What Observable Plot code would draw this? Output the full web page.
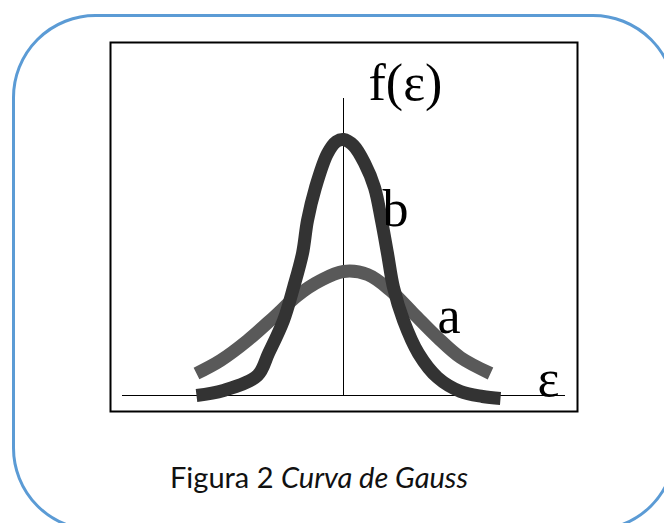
<!DOCTYPE html>
<html>
<head>
<meta charset="utf-8">
<script src="https://cdn.jsdelivr.net/npm/d3@7"></script>
<script src="https://cdn.jsdelivr.net/npm/@observablehq/plot@0.6"></script>
<style>
  html, body { margin: 0; padding: 0; background: #fff; width: 664px; height: 523px; overflow: hidden; }
  #box { position: absolute; left: 0; top: 0; }
  #chart { position: absolute; left: 108px; top: 40px; }
  #caption { position: absolute; left: 170px; top: 459px; font-family: Lato, "Open Sans", sans-serif; font-size: 29px; color: #111; white-space: nowrap; }
  #caption i { font-style: italic; }
</style>
</head>
<body>
<svg id="box" width="664" height="523" viewBox="0 0 664 523">
  <rect x="13.5" y="15.5" width="661.5" height="514.5" rx="82" ry="82" fill="none" stroke="#5b9bd5" stroke-width="3"></rect>
</svg>
<div id="chart"></div>
<div id="caption">Figura 2 <i>Curva de Gauss</i></div>
<script>
// curve b (narrow, tall)
const bX = [-2.94, -2.40, -1.72, -1.50, -1.20, -1.00, -0.82, -0.72, -0.56, -0.32, -0.14, 0, 0.20, 0.42, 0.62, 0.76, 0.88, 1.00, 1.20, 1.50, 1.88, 2.34, 2.78, 3.14];
const bY = [0.000, 0.020, 0.080, 0.168, 0.300, 0.432, 0.568, 0.700, 0.832, 0.968, 1.016, 1.024, 1.000, 0.930, 0.832, 0.700, 0.568, 0.432, 0.300, 0.168, 0.072, 0.016, -0.004, -0.012];
// curve a (wide, low)
const aX = [-2.94, -2.46, -1.92, -1.40, -0.92, -0.46, 0, 0.48, 0.94, 1.40, 1.88, 2.34, 2.94];
const aY = [0.088, 0.140, 0.220, 0.312, 0.400, 0.460, 0.496, 0.484, 0.420, 0.328, 0.232, 0.152, 0.088];
// labels
const labelText = ["f(ε)", "b", "a", "ε"];
const labelX = [0.50, 0.78, 1.88, 3.88];
const labelY = [1.184, 0.68, 0.252, 0.0];

const bData = bX.map((x, i) => ({x, y: bY[i]}));
const aData = aX.map((x, i) => ({x, y: aY[i]}));
const labels = labelText.map((t, i) => ({t, x: labelX[i], y: labelY[i]}));

const plot = Plot.plot({
  width: 471,
  height: 373,
  marginTop: 2, marginBottom: 2, marginLeft: 2, marginRight: 2,
  x: {domain: [-4.66, 4.68], axis: null},
  y: {domain: [-0.064, 1.412], axis: null},
  style: {background: "transparent", overflow: "visible"},
  marks: [
    Plot.frame({stroke: "#000", strokeWidth: 2}),
    Plot.ruleY([0], {x1: -4.42, x2: 4.44, stroke: "#000", strokeWidth: 1}),
    Plot.ruleX([0], {y1: 0, y2: 1.188, stroke: "#000", strokeWidth: 1}),
    Plot.line(aData, {x: "x", y: "y", stroke: "#595959", strokeWidth: 13, curve: "catmull-rom", strokeLinecap: "butt"}),
    Plot.line(bData, {x: "x", y: "y", stroke: "#333333", strokeWidth: 13, curve: "catmull-rom", strokeLinecap: "butt"}),
    Plot.text(labels, {x: "x", y: "y", text: "t", textAnchor: "start", lineAnchor: "bottom", fontSize: 52, fontFamily: "Liberation Serif, Times New Roman, serif", fill: "#000"})
  ]
});
document.getElementById("chart").appendChild(plot);
</script>
</body>
</html>
